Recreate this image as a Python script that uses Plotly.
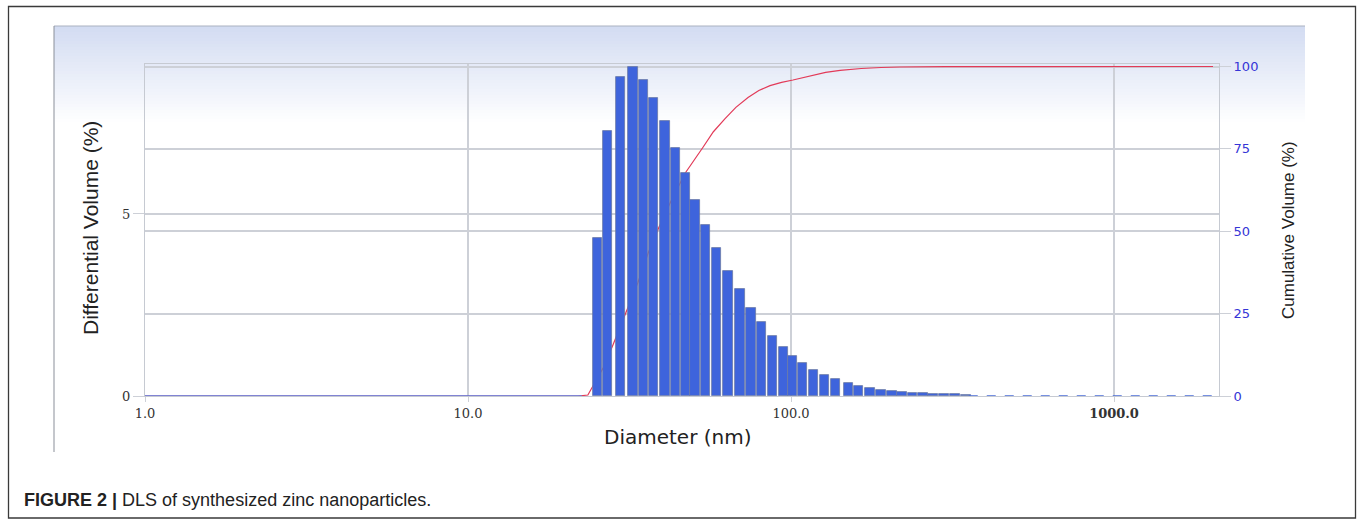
import plotly.graph_objects as go

# ---------------- data ----------------
diameter_nm = [25.2, 27.1, 29.7, 32.4, 34.9, 37.6, 40.7, 43.8, 47.0, 50.4,
               54.4, 58.8, 63.8, 69.5, 75.2, 81.0, 87.5, 94.7, 101.1, 108.7,
               117.4, 127.0, 137.3, 150.7, 161.8, 175.6, 189.9, 205.4, 220.7, 237.8,
               256.2, 275.2, 297.6, 321.9, 348.1]
differential_volume = [4.34, 7.29, 8.76, 9.03, 8.68, 8.18, 7.55, 6.82, 6.12, 5.38,
                       4.69, 4.07, 3.43, 2.93, 2.43, 2.02, 1.66, 1.35, 1.11, 0.90,
                       0.72, 0.59, 0.47, 0.37, 0.28, 0.23, 0.17, 0.14, 0.12, 0.09,
                       0.09, 0.06, 0.06, 0.06, 0.03]

cum_diameter = [1.0, 21.9, 23.5, 26.2, 28.1, 30.6, 33.6, 36.1, 39.0, 42.2, 47.0,
                53.4, 57.5, 62.5, 67.5, 73.6, 79.5, 86.1, 93.5, 101.4, 115.0, 128.0,
                141.9, 165.0, 190.0, 217.4, 300.0, 443.6, 2025.0]
cumulative_volume = [0.0, 0.0, 0.3, 8.5, 15.5, 24.5, 34.5, 43.3, 51.2, 58.5, 67.6,
                     75.5, 80.2, 84.2, 87.6, 90.6, 92.7, 94.2, 95.2, 95.9, 97.2, 98.2,
                     98.8, 99.4, 99.7, 99.85, 99.95, 100.0, 100.0]

zero_left_x = [1.0, 22.5]
zero_left_y = [0.0, 0.0]
zero_right_x = [355.0, 2100.0]
zero_right_y = [0.0, 0.0]

x_tick_vals = [1, 10, 100, 1000]
x_tick_text = ["1.0", "10.0", "100.0", "<b>1000.0</b>"]
left_tick_vals = [0, 5]
right_tick_vals = [0, 25, 50, 75, 100]

# ---------------- layout geometry ----------------
W, H = 1360, 519
L, R, T, B = 145, 141, 64, 123
PW, PH = W - L - R, H - T - B


def px(x):
    return (x - L) / PW


def py(y):
    return (H - B - y) / PH


half = 4.6 / 323.0  # half bar width in decades
bar_offset = [d * (10 ** (-half) - 1) for d in diameter_nm]
bar_width = [d * (10 ** half - 10 ** (-half)) for d in diameter_nm]

fig = go.Figure()

# cumulative curve (primary y, drawn below the bars)
fig.add_trace(go.Scatter(x=cum_diameter, y=cumulative_volume, mode="lines",
                         line=dict(color="#e23a58", width=1.2),
                         yaxis="y", showlegend=False))

# differential bars (overlay axis, on top)
fig.add_trace(go.Bar(x=diameter_nm, y=differential_volume, offset=bar_offset, width=bar_width,
                     marker=dict(color="#3e64dc", line=dict(color="#6a79a6", width=0.8)),
                     yaxis="y2", showlegend=False))
fig.add_trace(go.Scatter(x=zero_left_x, y=zero_left_y, mode="lines",
                         line=dict(color="#5b7be0", width=1.3), yaxis="y2", showlegend=False))
fig.add_trace(go.Scatter(x=zero_right_x, y=zero_right_y, mode="lines",
                         line=dict(color="#4a6cd6", width=1.3, dash="dash"), yaxis="y2",
                         showlegend=False))

grid_c = "#cdd0d7"
shapes = []
# gradient panel background
top_c = (211, 220, 242)
y_start, y_end, n = 26, 125, 33
for i in range(n):
    t = i / (n - 1)
    c = tuple(int(round(top_c[k] + (255 - top_c[k]) * t)) for k in range(3))
    y0 = y_start + (y_end - y_start) * i / n
    y1 = y_start + (y_end - y_start) * (i + 1) / n + 0.6
    shapes.append(dict(type="rect", xref="paper", yref="paper", layer="below",
                       x0=px(54), x1=px(1305), y0=py(y1), y1=py(y0),
                       fillcolor="rgb(%d,%d,%d)" % c, line=dict(width=0)))
# panel edges
shapes.append(dict(type="line", xref="paper", yref="paper", x0=px(54), x1=px(1305),
                   y0=py(26), y1=py(26), line=dict(color="#aab1c0", width=1)))
shapes.append(dict(type="line", xref="paper", yref="paper", x0=px(54), x1=px(54),
                   y0=py(26), y1=py(452), line=dict(color="#8a8f99", width=1)))
# outer figure frame
shapes.append(dict(type="rect", xref="paper", yref="paper", x0=px(8.5), x1=px(1355.5),
                   y0=py(518), y1=py(6.5), line=dict(color="#3a3a3a", width=1.3)))

fig.update_layout(
    width=W, height=H,
    margin=dict(l=L, r=R, t=T, b=B),
    paper_bgcolor="white",
    plot_bgcolor="rgba(0,0,0,0)",
    bargap=0,
    shapes=shapes,
    xaxis=dict(type="log", range=[0, 3.325], tickvals=x_tick_vals, ticktext=x_tick_text,
               tickfont=dict(family="DejaVu Serif", size=13, color="#333333"),
               showgrid=True, gridcolor=grid_c, gridwidth=1.5,
               showline=True, linecolor="#c6cad2", linewidth=1, mirror=True,
               ticks="outside", ticklen=5, tickcolor=grid_c, zeroline=False),
    yaxis=dict(side="right", range=[0, 100.76], tickvals=right_tick_vals,
               tickfont=dict(family="DejaVu Sans", size=13, color="#3535d6"),
               showgrid=True, gridcolor=grid_c, gridwidth=1.5,
               showline=True, linecolor="#c6cad2", mirror=True,
               ticks="outside", ticklen=11, tickcolor=grid_c, zeroline=False),
    yaxis2=dict(side="left", overlaying="y", anchor="x", range=[0, 9.12],
                tickvals=left_tick_vals,
                tickfont=dict(family="DejaVu Serif", size=13, color="#333333"),
                showgrid=True, gridcolor=grid_c, gridwidth=1.5,
                ticks="outside", ticklen=11, tickcolor=grid_c, zeroline=False),
    annotations=[
        dict(text="Diameter (nm)", xref="paper", yref="paper", x=px(678), y=py(437),
             xanchor="center", yanchor="middle", showarrow=False,
             font=dict(family="DejaVu Sans", size=20, color="#222222")),
        dict(text="Differential Volume (%)", xref="paper", yref="paper", x=px(90), y=py(228),
             xanchor="center", yanchor="middle", textangle=-90, showarrow=False,
             font=dict(family="Liberation Sans Narrow, Liberation Sans", size=21, color="#222222")),
        dict(text="Cumulative Volume (%)", xref="paper", yref="paper", x=px(1288), y=py(230),
             xanchor="center", yanchor="middle", textangle=-90, showarrow=False,
             font=dict(family="Liberation Sans Narrow, Liberation Sans", size=17, color="#222222")),
        dict(text="<b>FIGURE 2 |</b> DLS of synthesized zinc nanoparticles.", xref="paper",
             yref="paper", x=px(22), y=py(500), xanchor="left", yanchor="middle", showarrow=False,
             font=dict(family="Liberation Sans Narrow, Liberation Sans", size=18, color="#222222")),
    ],
)

fig.write_html("out.html")
